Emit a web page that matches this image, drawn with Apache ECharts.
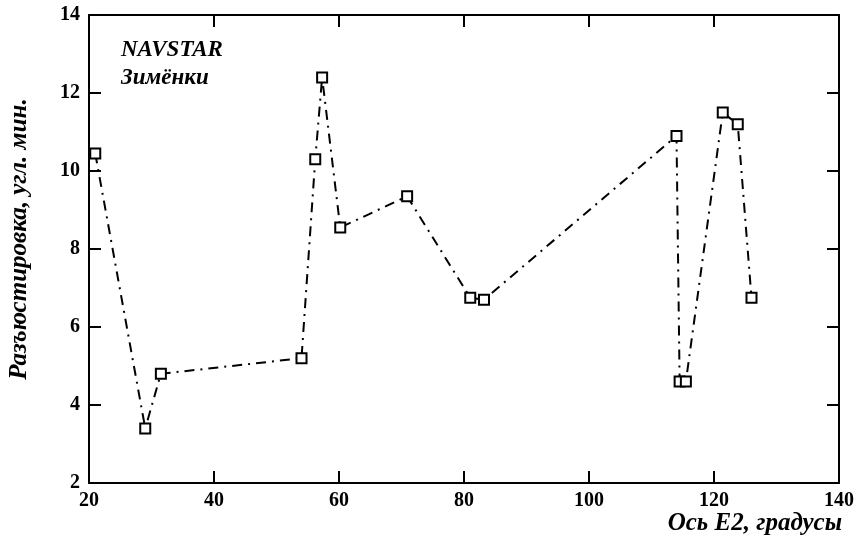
<!DOCTYPE html>
<html><head><meta charset="utf-8">
<script src="https://cdn.jsdelivr.net/npm/echarts@6/dist/echarts.min.js"></script>
<style>html,body{margin:0;padding:0;background:#fff}#c{width:864px;height:543px}</style>
</head><body><div id="c"></div>
<script>
const xValues = [21, 29, 31.5, 54, 56.2, 57.3, 60.2, 70.9, 81, 83.2, 114, 114.5, 115.5, 121.4, 123.8, 126];
const yValues = [10.45, 3.4, 4.8, 5.2, 10.3, 12.4, 8.55, 9.35, 6.75, 6.7, 10.9, 4.6, 4.6, 11.5, 11.2, 6.75];
const xTicks = [20, 40, 60, 80, 100, 120, 140];
const yTicks = [2, 4, 6, 8, 10, 12, 14];
const xTitle = 'Ось E2, градусы';
const yTitle = 'Разъюстировка, угл. мин.';
const note1 = 'NAVSTAR';
const note2 = 'Зимёнки';

const chart = echarts.init(document.getElementById('c'));
const font = 'Liberation Serif';
const lab = {fontFamily: font, fontWeight: 'bold', fontSize: 20, color: '#000'};
const axLine = {show: true, lineStyle: {color: '#000', width: 2}};
const tick = {show: true, inside: true, length: 12, lineStyle: {color: '#000', width: 2}};
chart.setOption({
  animation: false,
  backgroundColor: '#fff',
  grid: {left: 89, right: 25, top: 15, bottom: 60},
  xAxis: [
    {type: 'value', min: xTicks[0], max: xTicks[xTicks.length-1], interval: 20, position: 'bottom',
     axisLine: axLine, axisTick: tick, splitLine: {show: false},
     axisLabel: Object.assign({margin: 8}, lab)},
    {type: 'value', min: xTicks[0], max: xTicks[xTicks.length-1], interval: 20, position: 'top',
     axisLine: axLine, axisTick: tick, splitLine: {show: false}, axisLabel: {show: false}}
  ],
  yAxis: [
    {type: 'value', min: yTicks[0], max: yTicks[yTicks.length-1], interval: 2, position: 'left',
     axisLine: axLine, axisTick: tick, splitLine: {show: false},
     axisLabel: Object.assign({margin: 9}, lab)},
    {type: 'value', min: yTicks[0], max: yTicks[yTicks.length-1], interval: 2, position: 'right',
     axisLine: axLine, axisTick: tick, splitLine: {show: false}, axisLabel: {show: false}}
  ],
  graphic: [
    {type: 'text', left: 121, top: 39, style: {text: note1, font: 'italic bold 23px "Liberation Serif"', fill: '#000'}},
    {type: 'text', left: 121, top: 67, style: {text: note2, font: 'italic bold 23px "Liberation Serif"', fill: '#000'}},
    {type: 'text', right: 22, top: 511, style: {text: xTitle, font: 'italic bold 25px "Liberation Serif"', fill: '#000'}},
    {type: 'text', x: 20, y: 239, rotation: Math.PI/2, style: {text: yTitle, font: 'italic bold 25px "Liberation Serif"', fill: '#000', align: 'center', verticalAlign: 'middle'}}
  ],
  series: [{
    type: 'line',
    data: xValues.map((x, i) => [x, yValues[i]]),
    symbol: 'rect', symbolSize: 10,
    itemStyle: {color: '#fff', borderColor: '#000', borderWidth: 2},
    lineStyle: {color: '#000', width: 2, type: [10, 6, 2, 6]},
    z: 3
  }]
});
</script></body></html>
